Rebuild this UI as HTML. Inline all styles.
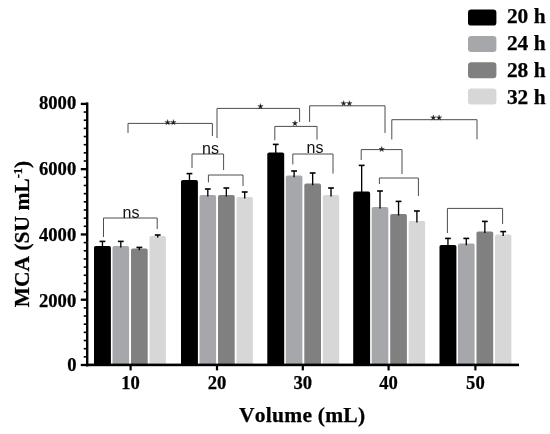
<!DOCTYPE html>
<html><head><meta charset="utf-8"><title>chart</title>
<style>html,body{margin:0;padding:0;background:#fff;}body{width:550px;height:434px;overflow:hidden;}svg{display:block;}.sb{font-family:"Liberation Serif",serif;font-weight:bold;fill:#000;font-kerning:none;stroke:#000;stroke-width:0.25px;}svg{will-change:transform;}.ss{font-family:"Liberation Sans",sans-serif;fill:#111;}</style></head><body>
<svg width="550" height="434" viewBox="0 0 550 434">
<rect x="0" y="0" width="550" height="434" fill="#fff"/>
<rect x="94.00" y="246.00" width="16.9" height="119.00" fill="#000000" rx="1.8"/>
<path d="M102.45 247.60V241.40" stroke="#000" stroke-width="1.35" fill="none"/><path d="M99.55 241.40H105.35" stroke="#000" stroke-width="1.6" fill="none"/>
<rect x="112.50" y="246.00" width="16.6" height="119.00" fill="#a5a7aa" rx="1.8"/>
<path d="M120.80 247.60V241.40" stroke="#000" stroke-width="1.35" fill="none"/><path d="M117.90 241.40H123.70" stroke="#000" stroke-width="1.6" fill="none"/>
<rect x="131.00" y="248.60" width="16.7" height="116.40" fill="#808080" rx="1.8"/>
<path d="M139.35 250.20V247.40" stroke="#000" stroke-width="1.35" fill="none"/><path d="M136.45 247.40H142.25" stroke="#000" stroke-width="1.6" fill="none"/>
<rect x="149.50" y="236.00" width="16.4" height="129.00" fill="#d7d7d7" rx="1.8"/>
<path d="M157.70 237.60V235.00" stroke="#000" stroke-width="1.35" fill="none"/><path d="M154.80 235.00H160.60" stroke="#000" stroke-width="1.6" fill="none"/>
<rect x="181.00" y="180.00" width="16.9" height="185.00" fill="#000000" rx="1.8"/>
<path d="M189.45 181.60V173.60" stroke="#000" stroke-width="1.35" fill="none"/><path d="M186.55 173.60H192.35" stroke="#000" stroke-width="1.6" fill="none"/>
<rect x="199.50" y="195.00" width="16.6" height="170.00" fill="#a5a7aa" rx="1.8"/>
<path d="M207.80 196.60V189.00" stroke="#000" stroke-width="1.35" fill="none"/><path d="M204.90 189.00H210.70" stroke="#000" stroke-width="1.6" fill="none"/>
<rect x="218.00" y="195.00" width="16.7" height="170.00" fill="#808080" rx="1.8"/>
<path d="M226.35 196.60V188.00" stroke="#000" stroke-width="1.35" fill="none"/><path d="M223.45 188.00H229.25" stroke="#000" stroke-width="1.6" fill="none"/>
<rect x="236.50" y="197.00" width="16.4" height="168.00" fill="#d7d7d7" rx="1.8"/>
<path d="M244.70 198.60V192.00" stroke="#000" stroke-width="1.35" fill="none"/><path d="M241.80 192.00H247.60" stroke="#000" stroke-width="1.6" fill="none"/>
<rect x="267.30" y="152.40" width="16.9" height="212.60" fill="#000000" rx="1.8"/>
<path d="M275.75 154.00V144.40" stroke="#000" stroke-width="1.35" fill="none"/><path d="M272.85 144.40H278.65" stroke="#000" stroke-width="1.6" fill="none"/>
<rect x="285.80" y="175.60" width="16.6" height="189.40" fill="#a5a7aa" rx="1.8"/>
<path d="M294.10 177.20V171.00" stroke="#000" stroke-width="1.35" fill="none"/><path d="M291.20 171.00H297.00" stroke="#000" stroke-width="1.6" fill="none"/>
<rect x="304.30" y="183.60" width="16.7" height="181.40" fill="#808080" rx="1.8"/>
<path d="M312.65 185.20V173.00" stroke="#000" stroke-width="1.35" fill="none"/><path d="M309.75 173.00H315.55" stroke="#000" stroke-width="1.6" fill="none"/>
<rect x="322.80" y="195.00" width="16.4" height="170.00" fill="#d7d7d7" rx="1.8"/>
<path d="M331.00 196.60V188.00" stroke="#000" stroke-width="1.35" fill="none"/><path d="M328.10 188.00H333.90" stroke="#000" stroke-width="1.6" fill="none"/>
<rect x="353.20" y="191.60" width="16.9" height="173.40" fill="#000000" rx="1.8"/>
<path d="M361.65 193.20V165.40" stroke="#000" stroke-width="1.35" fill="none"/><path d="M358.75 165.40H364.55" stroke="#000" stroke-width="1.6" fill="none"/>
<rect x="371.70" y="207.00" width="16.6" height="158.00" fill="#a5a7aa" rx="1.8"/>
<path d="M380.00 208.60V191.00" stroke="#000" stroke-width="1.35" fill="none"/><path d="M377.10 191.00H382.90" stroke="#000" stroke-width="1.6" fill="none"/>
<rect x="390.20" y="214.00" width="16.7" height="151.00" fill="#808080" rx="1.8"/>
<path d="M398.55 215.60V201.40" stroke="#000" stroke-width="1.35" fill="none"/><path d="M395.65 201.40H401.45" stroke="#000" stroke-width="1.6" fill="none"/>
<rect x="408.70" y="221.00" width="16.4" height="144.00" fill="#d7d7d7" rx="1.8"/>
<path d="M416.90 222.60V211.00" stroke="#000" stroke-width="1.35" fill="none"/><path d="M414.00 211.00H419.80" stroke="#000" stroke-width="1.6" fill="none"/>
<rect x="439.50" y="245.00" width="16.9" height="120.00" fill="#000000" rx="1.8"/>
<path d="M447.95 246.60V238.40" stroke="#000" stroke-width="1.35" fill="none"/><path d="M445.05 238.40H450.85" stroke="#000" stroke-width="1.6" fill="none"/>
<rect x="458.00" y="243.60" width="16.6" height="121.40" fill="#a5a7aa" rx="1.8"/>
<path d="M466.30 245.20V238.40" stroke="#000" stroke-width="1.35" fill="none"/><path d="M463.40 238.40H469.20" stroke="#000" stroke-width="1.6" fill="none"/>
<rect x="476.50" y="231.40" width="16.7" height="133.60" fill="#808080" rx="1.8"/>
<path d="M484.85 233.00V221.40" stroke="#000" stroke-width="1.35" fill="none"/><path d="M481.95 221.40H487.75" stroke="#000" stroke-width="1.6" fill="none"/>
<rect x="495.00" y="234.40" width="16.4" height="130.60" fill="#d7d7d7" rx="1.8"/>
<path d="M503.20 236.00V231.60" stroke="#000" stroke-width="1.35" fill="none"/><path d="M500.30 231.60H506.10" stroke="#000" stroke-width="1.6" fill="none"/>
<rect x="86" y="102.4" width="2.4" height="264" fill="#000"/>
<rect x="86" y="363.6" width="433" height="2.6" fill="#000"/>
<rect x="80.8" y="363.85" width="6" height="2.3" fill="#000"/>
<rect x="83.7" y="356.04" width="3" height="1.6" fill="#000"/>
<rect x="83.7" y="347.88" width="3" height="1.6" fill="#000"/>
<rect x="83.7" y="339.72" width="3" height="1.6" fill="#000"/>
<rect x="83.7" y="331.56" width="3" height="1.6" fill="#000"/>
<rect x="83.7" y="323.40" width="3" height="1.6" fill="#000"/>
<rect x="83.7" y="315.24" width="3" height="1.6" fill="#000"/>
<rect x="83.7" y="307.08" width="3" height="1.6" fill="#000"/>
<rect x="80.8" y="298.58" width="6" height="2.3" fill="#000"/>
<rect x="83.7" y="290.77" width="3" height="1.6" fill="#000"/>
<rect x="83.7" y="282.61" width="3" height="1.6" fill="#000"/>
<rect x="83.7" y="274.45" width="3" height="1.6" fill="#000"/>
<rect x="83.7" y="266.29" width="3" height="1.6" fill="#000"/>
<rect x="83.7" y="258.13" width="3" height="1.6" fill="#000"/>
<rect x="83.7" y="249.97" width="3" height="1.6" fill="#000"/>
<rect x="83.7" y="241.81" width="3" height="1.6" fill="#000"/>
<rect x="80.8" y="233.30" width="6" height="2.3" fill="#000"/>
<rect x="83.7" y="225.49" width="3" height="1.6" fill="#000"/>
<rect x="83.7" y="217.33" width="3" height="1.6" fill="#000"/>
<rect x="83.7" y="209.17" width="3" height="1.6" fill="#000"/>
<rect x="83.7" y="201.01" width="3" height="1.6" fill="#000"/>
<rect x="83.7" y="192.85" width="3" height="1.6" fill="#000"/>
<rect x="83.7" y="184.69" width="3" height="1.6" fill="#000"/>
<rect x="83.7" y="176.53" width="3" height="1.6" fill="#000"/>
<rect x="80.8" y="168.02" width="6" height="2.3" fill="#000"/>
<rect x="83.7" y="160.22" width="3" height="1.6" fill="#000"/>
<rect x="83.7" y="152.06" width="3" height="1.6" fill="#000"/>
<rect x="83.7" y="143.90" width="3" height="1.6" fill="#000"/>
<rect x="83.7" y="135.74" width="3" height="1.6" fill="#000"/>
<rect x="83.7" y="127.58" width="3" height="1.6" fill="#000"/>
<rect x="83.7" y="119.42" width="3" height="1.6" fill="#000"/>
<rect x="83.7" y="111.26" width="3" height="1.6" fill="#000"/>
<rect x="80.8" y="102.75" width="6" height="2.3" fill="#000"/>
<rect x="129.50" y="365" width="2.2" height="5.4" fill="#000"/>
<text class="sb" x="130.60" y="389.2" font-size="18.6" text-anchor="middle">10</text>
<rect x="215.90" y="365" width="2.2" height="5.4" fill="#000"/>
<text class="sb" x="217.00" y="389.2" font-size="18.6" text-anchor="middle">20</text>
<rect x="301.70" y="365" width="2.2" height="5.4" fill="#000"/>
<text class="sb" x="302.80" y="389.2" font-size="18.6" text-anchor="middle">30</text>
<rect x="387.50" y="365" width="2.2" height="5.4" fill="#000"/>
<text class="sb" x="388.60" y="389.2" font-size="18.6" text-anchor="middle">40</text>
<rect x="474.30" y="365" width="2.2" height="5.4" fill="#000"/>
<text class="sb" x="475.40" y="389.2" font-size="18.6" text-anchor="middle">50</text>
<text class="sb" x="76.6" y="371.15" font-size="18.6" text-anchor="end">0</text>
<text class="sb" x="76.2" y="307.10" font-size="18.6" text-anchor="end">2000</text>
<text class="sb" x="76.2" y="241.30" font-size="18.6" text-anchor="end">4000</text>
<text class="sb" x="76.2" y="174.80" font-size="18.6" text-anchor="end">6000</text>
<text class="sb" x="76.2" y="108.90" font-size="18.6" text-anchor="end">8000</text>
<text class="sb" x="302.2" y="422" font-size="21.5" style="letter-spacing:0.25px" text-anchor="middle">Volume (mL)</text>
<text class="sb" transform="translate(29,234) rotate(-90)" font-size="21.5" text-anchor="middle">MCA (SU mL<tspan font-size="12.5" dy="-7.5">-1</tspan><tspan dy="7.5">)</tspan></text>
<rect x="468" y="9.60" width="28.4" height="16" rx="3.2" fill="#000000"/>
<text class="sb" x="506.9" y="23.4" font-size="21.4">20 h</text>
<rect x="468" y="35.90" width="28.4" height="16" rx="3.2" fill="#a5a7aa"/>
<text class="sb" x="506.9" y="50.0" font-size="21.4">24 h</text>
<rect x="468" y="62.20" width="28.4" height="16" rx="3.2" fill="#808080"/>
<text class="sb" x="506.9" y="77.0" font-size="21.4">28 h</text>
<rect x="468" y="88.50" width="28.4" height="16" rx="3.2" fill="#d7d7d7"/>
<text class="sb" x="506.9" y="104.0" font-size="21.4">32 h</text>
<path d="M103.5 237V218H157.2V229" stroke="#4d4d4d" stroke-width="1.0" fill="none"/>
<text class="ss" x="131" y="218" font-size="16" text-anchor="middle">ns</text>
<path d="M128 133V123.4H212.4V136" stroke="#4d4d4d" stroke-width="1.0" fill="none"/>
<polygon points="167.60,119.60 168.19,121.64 170.31,121.57 168.55,122.76 169.28,124.76 167.60,123.45 165.92,124.76 166.65,122.76 164.89,121.57 167.01,121.64" fill="#1a1a1a" stroke="#1a1a1a" stroke-width="0.35" stroke-linejoin="miter"/>
<polygon points="173.40,119.60 173.99,121.64 176.11,121.57 174.35,122.76 175.08,124.76 173.40,123.45 171.72,124.76 172.45,122.76 170.69,121.57 172.81,121.64" fill="#1a1a1a" stroke="#1a1a1a" stroke-width="0.35" stroke-linejoin="miter"/>
<path d="M192 168V154H223.6V170" stroke="#4d4d4d" stroke-width="1.0" fill="none"/>
<text class="ss" x="210.5" y="153.6" font-size="16" text-anchor="middle">ns</text>
<path d="M208.4 182.4V175H243V186" stroke="#4d4d4d" stroke-width="1.0" fill="none"/>
<path d="M217 138V108.4H299.6V122" stroke="#4d4d4d" stroke-width="1.0" fill="none"/>
<polygon points="260.50,103.60 261.09,105.64 263.21,105.57 261.45,106.76 262.18,108.76 260.50,107.45 258.82,108.76 259.55,106.76 257.79,105.57 259.91,105.64" fill="#1a1a1a" stroke="#1a1a1a" stroke-width="0.35" stroke-linejoin="miter"/>
<path d="M274.8 140.3V126.4H317V139.6" stroke="#4d4d4d" stroke-width="1.0" fill="none"/>
<polygon points="295.00,120.55 295.59,122.59 297.71,122.52 295.95,123.71 296.68,125.71 295.00,124.40 293.32,125.71 294.05,123.71 292.29,122.52 294.41,122.59" fill="#1a1a1a" stroke="#1a1a1a" stroke-width="0.35" stroke-linejoin="miter"/>
<path d="M292.8 164.4V154H333V173.6" stroke="#4d4d4d" stroke-width="1.0" fill="none"/>
<text class="ss" x="315" y="153.3" font-size="16" text-anchor="middle">ns</text>
<path d="M309.6 122V105.8H385V133" stroke="#4d4d4d" stroke-width="1.0" fill="none"/>
<polygon points="343.60,100.65 344.19,102.69 346.31,102.62 344.55,103.81 345.28,105.81 343.60,104.50 341.92,105.81 342.65,103.81 340.89,102.62 343.01,102.69" fill="#1a1a1a" stroke="#1a1a1a" stroke-width="0.35" stroke-linejoin="miter"/>
<polygon points="349.40,100.65 349.99,102.69 352.11,102.62 350.35,103.81 351.08,105.81 349.40,104.50 347.72,105.81 348.45,103.81 346.69,102.62 348.81,102.69" fill="#1a1a1a" stroke="#1a1a1a" stroke-width="0.35" stroke-linejoin="miter"/>
<path d="M361.2 160V149.6H402V174" stroke="#4d4d4d" stroke-width="1.0" fill="none"/>
<polygon points="381.70,146.40 382.29,148.44 384.41,148.37 382.65,149.56 383.38,151.56 381.70,150.25 380.02,151.56 380.75,149.56 378.99,148.37 381.11,148.44" fill="#1a1a1a" stroke="#1a1a1a" stroke-width="0.35" stroke-linejoin="miter"/>
<path d="M379.4 184V178H418.4V196" stroke="#4d4d4d" stroke-width="1.0" fill="none"/>
<path d="M391.8 139.5V119.7H477V139.4" stroke="#4d4d4d" stroke-width="1.0" fill="none"/>
<polygon points="433.30,114.90 433.89,116.94 436.01,116.87 434.25,118.06 434.98,120.06 433.30,118.75 431.62,120.06 432.35,118.06 430.59,116.87 432.71,116.94" fill="#1a1a1a" stroke="#1a1a1a" stroke-width="0.35" stroke-linejoin="miter"/>
<polygon points="439.10,114.90 439.69,116.94 441.81,116.87 440.05,118.06 440.78,120.06 439.10,118.75 437.42,120.06 438.15,118.06 436.39,116.87 438.51,116.94" fill="#1a1a1a" stroke="#1a1a1a" stroke-width="0.35" stroke-linejoin="miter"/>
<path d="M447.4 233V208.4H502.6V224" stroke="#4d4d4d" stroke-width="1.0" fill="none"/>
</svg></body></html>
